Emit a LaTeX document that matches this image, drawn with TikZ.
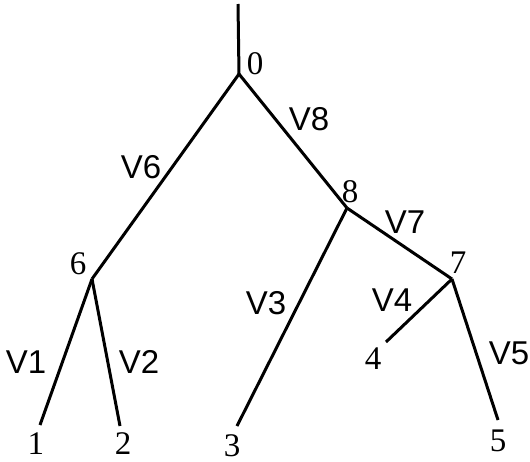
\documentclass[tikz,border=0pt]{standalone}
\usepackage{fontspec}
\setmainfont{Liberation Serif}
\newfontfamily\edgefont{Liberation Sans}
\usepackage{tikz}

\tikzset{
    vertexlabel/.style={inner sep=0pt, font=\fontsize{16.5}{19}\selectfont},
    edgelabel/.style={inner sep=0pt, font=\edgefont\fontsize{16.5}{19}\selectfont},
}

\begin{document}
\begin{tikzpicture}[x=0.5pt, y=-0.5pt, line width=1.5pt]
    \useasboundingbox (0,0) rectangle (530,461);
    % tree vertices
    \coordinate (root) at (238,4);
    \coordinate (n0) at (239,74);
    \coordinate (n6) at (92,279);
    \coordinate (n8) at (347,208);
    \coordinate (n7) at (452,279);
    \coordinate (n1) at (40,425);
    \coordinate (n2) at (120,426);
    \coordinate (n3) at (237,426);
    \coordinate (n4) at (386,342);
    \coordinate (n5) at (498,420);
    % branches
    \draw (root) -- (n0);
    \foreach \a/\b in {n0/n6, n0/n8, n8/n7, n6/n1, n6/n2, n8/n3, n7/n4, n7/n5}
        \draw (\a) -- (\b);
    % vertex labels
    \node[vertexlabel] (l0) at (255,64) {0};
    \node[vertexlabel] (l6) at (78,264) {6};
    \node[vertexlabel] (l8) at (350,192) {8};
    \node[vertexlabel] (l7) at (458,263) {7};
    \node[vertexlabel] (l1) at (36,444) {1};
    \node[vertexlabel] (l2) at (123,444) {2};
    \node[vertexlabel] (l3) at (232,446) {3};
    \node[vertexlabel] (l4) at (373,359) {4};
    \node[vertexlabel] (l5) at (498,441) {5};
    % branch labels
    \node[edgelabel] (v8) at (309,119) {V8};
    \node[edgelabel] (v6) at (141,167) {V6};
    \node[edgelabel] (v7) at (405,222) {V7};
    \node[edgelabel] (v3) at (266,303) {V3};
    \node[edgelabel] (v4) at (392,300) {V4};
    \node[edgelabel] (v1) at (26,362) {V1};
    \node[edgelabel] (v2) at (139,362) {V2};
    \node[edgelabel] (v5) at (509,353) {V5};
\end{tikzpicture}
\end{document}
